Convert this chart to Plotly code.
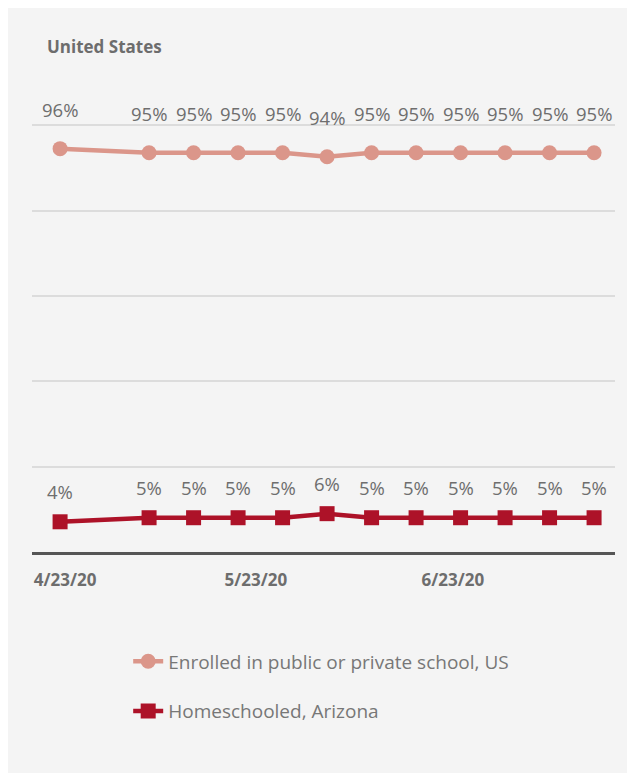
import plotly.graph_objects as go

# --- data ---
dates = ['2020-04-23', '2020-05-07', '2020-05-14', '2020-05-21', '2020-05-28', '2020-06-04',
         '2020-06-11', '2020-06-18', '2020-06-25', '2020-07-02', '2020-07-09', '2020-07-16']
enrolled_us = [96, 95, 95, 95, 95, 94, 95, 95, 95, 95, 95, 95]
homeschool_az = [4, 5, 5, 5, 5, 6, 5, 5, 5, 5, 5, 5]
tick_dates = ['2020-04-23', '2020-05-23', '2020-06-23']
tick_labels = ['4/23/20', '5/23/20', '6/23/20']

ENROLLED_COLOR = '#db968a'
HOME_COLOR = '#ad1228'
TEXT_GREY = '#6e6e6e'
PANEL = '#f4f4f4'

fig = go.Figure()

fig.add_trace(go.Scatter(
    x=dates, y=enrolled_us, name='Enrolled in public or private school, US',
    mode='lines+markers', legendgroup='a',
    line=dict(color=ENROLLED_COLOR, width=4.5),
    marker=dict(color=ENROLLED_COLOR, size=15, symbol='circle')
))
fig.add_trace(go.Scatter(
    x=dates, y=homeschool_az, name='Homeschooled, Arizona',
    mode='lines+markers', legendgroup='b',
    line=dict(color=HOME_COLOR, width=4.5),
    marker=dict(color=HOME_COLOR, size=15, symbol='square')
))

# data labels above each point
annotations = []
for d, v in zip(dates, enrolled_us):
    annotations.append(dict(x=d, y=v, text=f'{v}%', showarrow=False, yshift=39,
                            font=dict(family='Open Sans', size=18.5, color=TEXT_GREY)))
for d, v in zip(dates, homeschool_az):
    annotations.append(dict(x=d, y=v, text=f'{v}%', showarrow=False, yshift=30,
                            font=dict(family='Open Sans', size=18.5, color=TEXT_GREY)))

fig.update_layout(
    width=619, height=765,
    margin=dict(l=24, r=12, t=92, b=221),
    paper_bgcolor=PANEL, plot_bgcolor=PANEL,
    title=dict(text='<b>United States</b>', x=0.063, xanchor='left', xref='container',
               y=1 - 39 / 765, yanchor='middle', yref='container',
               font=dict(family='Open Sans', size=17, color='#6d6d6d')),
    showlegend=True,
    legend=dict(x=0.165, xanchor='left', y=-0.2, yanchor='top', tracegroupgap=22,
                bgcolor='rgba(0,0,0,0)',
                font=dict(family='Open Sans', size=19, color='#777777')),
    annotations=annotations,
)

fig.update_xaxes(
    type='date', range=['2020-04-18 14:00', '2020-07-19 07:00'],
    tickvals=tick_dates, ticktext=tick_labels,
    showgrid=False, zeroline=False,
    showline=True, linecolor='#555555', linewidth=3,
    ticks='outside', ticklen=11, tickcolor=PANEL, ticklabelshift=5,
    tickfont=dict(family='Open Sans', size=17, color='#6d6d6d', weight='bold'),
)
fig.update_yaxes(
    range=[-3.45, 108.0], tickvals=[17.5, 38.6, 59.7, 80.7, 101.8],
    showticklabels=False, showgrid=True, gridcolor='#dcdcdc', gridwidth=2,
    zeroline=False,
)

fig.write_html('out.html')
